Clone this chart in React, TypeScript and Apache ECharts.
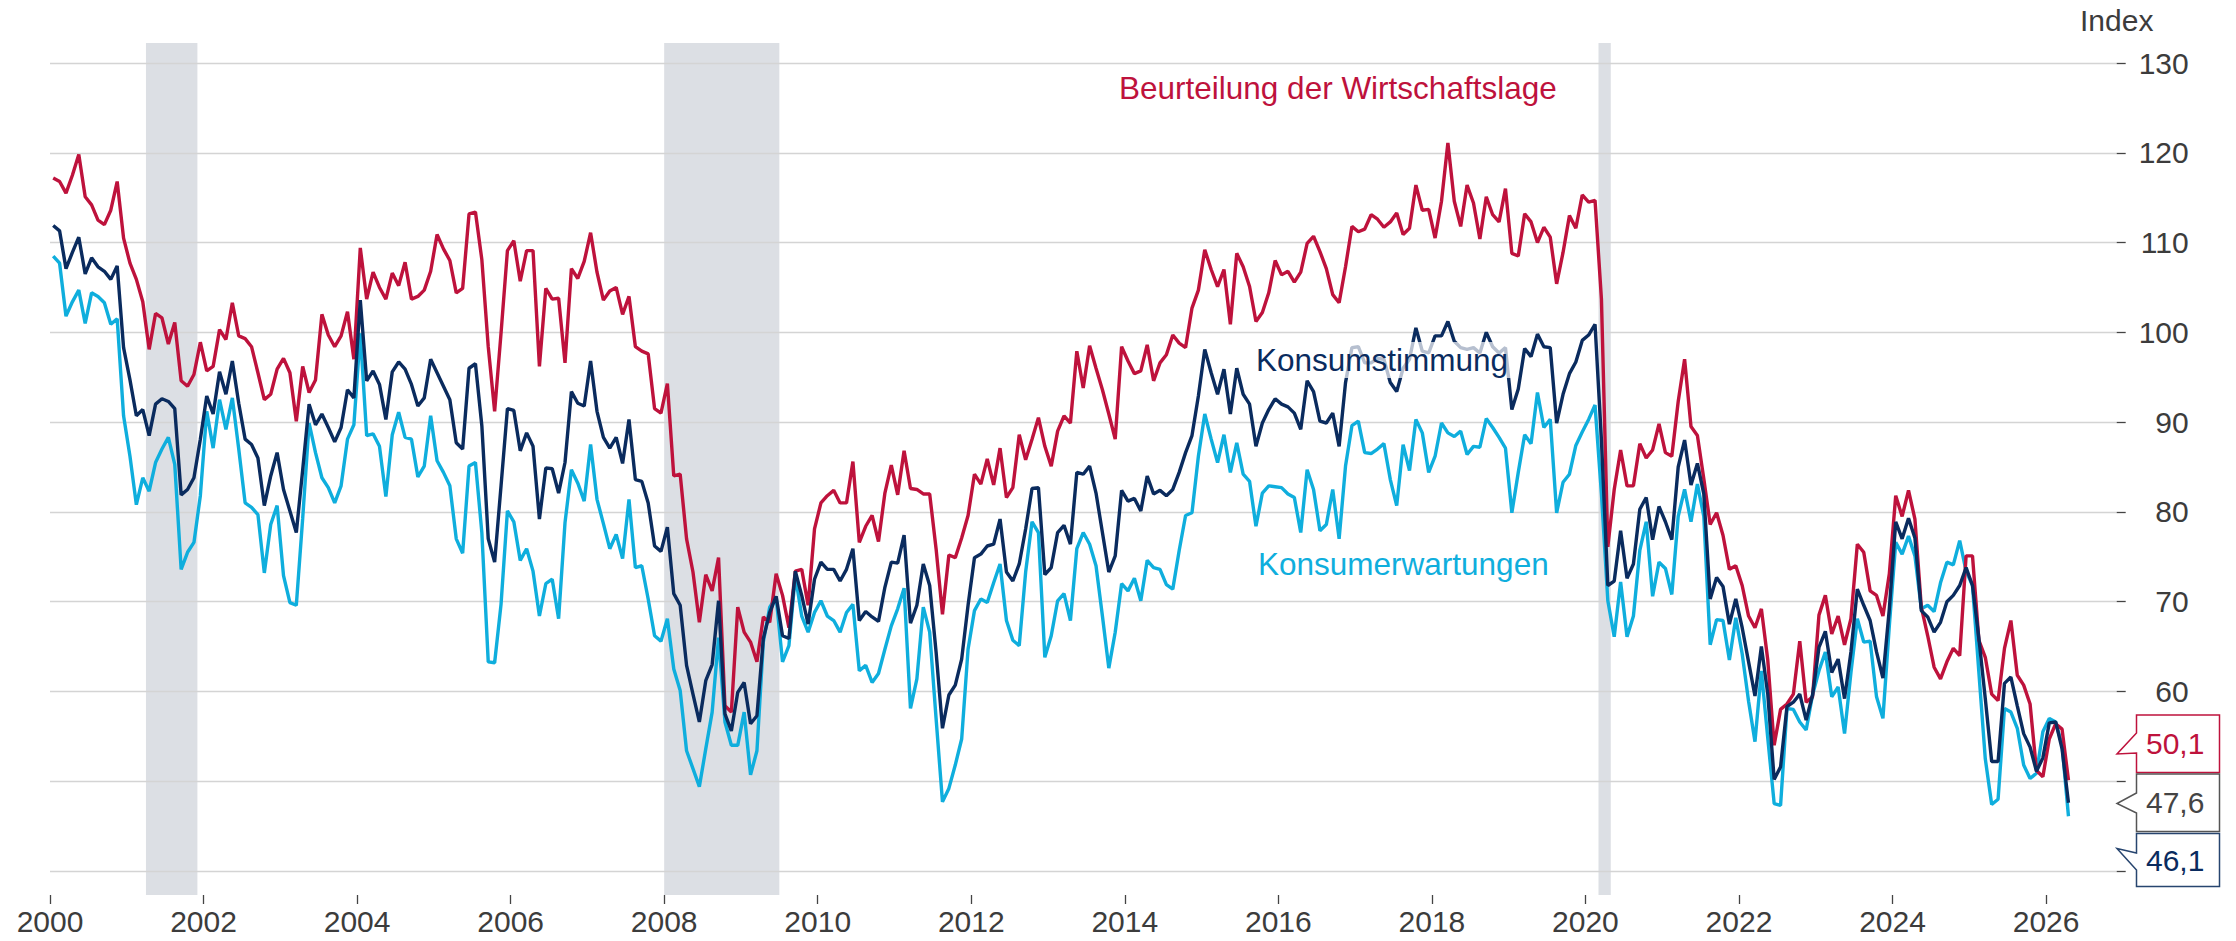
import React, { useEffect, useRef } from 'react';
import * as echarts from 'echarts';

// Monthly values, first month = January 2000, last month = April 2026
const FIRST_YEAR = 2000;

const beurteilung = [
  117.2, 116.8, 115.5, 117.5, 119.8, 115.1, 114.2, 112.5, 112.0, 113.6, 116.8, 110.5,
  107.7, 105.9, 103.4, 98.1, 102.1, 101.6, 98.7, 101.1, 94.6, 94.0, 95.3, 98.9,
  95.7, 96.2, 100.3, 99.2, 103.3, 99.6, 99.3, 98.4, 95.5, 92.5, 93.1, 95.9,
  97.1, 95.5, 90.1, 96.2, 93.3, 94.7, 102.0, 99.7, 98.4, 99.6, 102.3, 97.0,
  109.4, 103.7, 106.7, 105.0, 103.7, 106.6, 105.2, 107.8, 103.7, 104.0, 104.7, 106.8,
  110.9, 109.3, 108.0, 104.4, 104.9, 113.2, 113.4, 108.1, 98.4, 91.2, 99.9, 109.1,
  110.2, 105.7, 109.1, 109.1, 96.2, 104.9, 103.7, 103.8, 96.6, 107.1, 106.0, 107.9,
  111.1, 106.7, 103.6, 104.6, 105.0, 102.0, 104.0, 98.4, 97.9, 97.6, 91.5, 91.0,
  94.3, 84.0, 84.2, 77.0, 73.3, 67.7, 73.0, 71.2, 74.9, 58.4, 57.7, 69.4,
  66.6, 65.5, 63.3, 68.3, 67.7, 73.1, 70.7, 67.1, 73.4, 73.6, 69.6, 78.1,
  81.0, 81.8, 82.4, 81.0, 81.0, 85.6, 76.6, 78.4, 79.6, 76.7, 82.1, 85.2,
  81.9, 86.8, 82.6, 82.5, 82.0, 82.0, 75.9, 68.6, 75.2, 74.9, 77.1, 79.6,
  84.2, 83.1, 85.9, 83.0, 87.1, 81.6, 82.7, 88.6, 85.8, 88.1, 90.5, 87.3,
  85.1, 89.0, 90.7, 89.9, 97.9, 93.8, 98.5, 96.0, 93.6, 90.9, 88.1, 98.4,
  96.8, 95.4, 95.7, 98.6, 94.6, 96.6, 97.5, 99.7, 98.8, 98.3, 102.7, 104.7,
  109.2, 107.0, 105.1, 107.0, 100.9, 108.8, 107.3, 105.1, 101.2, 102.2, 104.4, 108.0,
  106.4, 106.8, 105.6, 106.7, 109.9, 110.7, 109.0, 107.1, 104.2, 103.3, 107.3, 111.8,
  111.2, 111.5, 113.1, 112.6, 111.7, 112.3, 113.3, 110.9, 111.6, 116.4, 113.6, 113.7,
  110.5, 114.6, 121.1, 114.6, 111.8, 116.4, 114.4, 110.4, 115.1, 113.1, 112.3, 116.0,
  108.8, 108.5, 113.2, 112.3, 110.0, 111.7, 110.6, 105.4, 108.9, 113.0, 111.6, 115.3,
  114.5, 114.7, 103.7, 76.1, 82.5, 86.9, 82.9, 82.9, 87.6, 86.0, 86.9, 89.8,
  86.6, 86.2, 92.3, 97.0, 89.5, 88.5, 83.7, 78.6, 79.9, 77.4, 73.6, 74.0,
  71.8, 68.4, 67.1, 69.2, 63.5, 54.0, 58.0, 58.6, 59.7, 65.6, 58.8, 59.4,
  68.5, 70.7, 66.4, 68.4, 65.2, 68.1, 76.4, 75.5, 71.2, 70.7, 68.4, 73.1,
  81.8, 79.5, 82.4, 79.2, 69.4, 66.2, 62.7, 61.4, 63.3, 64.8, 64.0, 75.1,
  75.1, 65.7, 63.8, 59.7, 59.0, 64.8, 67.9, 61.8, 60.7, 58.6, 51.2, 50.5,
  54.7, 56.4, 55.8, 50.1,
];

const konsumstimmung = [
  111.9, 111.3, 107.1, 108.9, 110.6, 106.5, 108.3, 107.3, 106.8, 105.9, 107.4, 98.3,
  94.7, 90.7, 91.4, 88.5, 92.0, 92.6, 92.3, 91.5, 81.9, 82.5, 83.8, 88.1,
  92.9, 90.9, 95.6, 93.1, 96.8, 92.1, 88.1, 87.5, 86.0, 80.7, 84.0, 86.6,
  82.5, 80.1, 77.7, 84.7, 92.0, 89.7, 90.9, 89.4, 87.8, 89.4, 93.6, 92.7,
  103.6, 94.6, 95.7, 94.2, 90.3, 95.6, 96.7, 95.9, 94.2, 91.8, 92.7, 97.0,
  95.5, 94.0, 92.5, 87.7, 87.0, 96.0, 96.5, 89.6, 77.0, 74.4, 82.9, 91.5,
  91.3, 86.8, 88.8, 87.3, 79.2, 84.9, 84.8, 82.1, 85.5, 93.4, 92.1, 91.8,
  96.8, 91.2, 88.3, 87.1, 88.3, 85.4, 90.3, 83.6, 83.4, 81.0, 76.2, 75.6,
  78.3, 70.9, 69.6, 62.9, 59.7, 56.6, 61.2, 63.0, 70.1, 57.5, 55.6, 59.9,
  61.0, 56.4, 57.3, 65.9, 68.8, 70.6, 66.2, 65.9, 73.4, 70.7, 67.5, 72.5,
  74.4, 73.6, 73.6, 72.3, 73.6, 75.9, 67.9, 68.9, 68.3, 67.8, 71.6, 74.4,
  74.3, 77.4, 67.6, 69.6, 74.2, 71.8, 64.4, 55.9, 59.6, 60.7, 63.6, 69.6,
  74.9, 75.3, 76.2, 76.4, 79.2, 73.3, 72.3, 74.2, 78.1, 82.6, 82.7, 73.0,
  73.8, 77.7, 78.5, 76.4, 84.4, 84.2, 85.1, 82.1, 77.7, 73.3, 75.1, 82.4,
  81.2, 81.5, 80.1, 84.0, 82.0, 82.4, 81.8, 82.5, 84.4, 86.6, 88.5, 92.9,
  98.1, 95.5, 93.1, 95.9, 90.9, 96.0, 93.1, 92.0, 87.3, 89.9, 91.4, 92.6,
  92.0, 91.7, 91.0, 89.2, 94.6, 93.4, 90.1, 89.9, 91.0, 87.3, 94.4, 98.3,
  98.4, 96.6, 96.6, 97.1, 97.0, 94.4, 93.4, 96.0, 97.0, 100.5, 97.9, 97.7,
  99.6, 99.6, 101.2, 99.0, 98.3, 98.1, 98.3, 97.7, 100.0, 98.4, 97.7, 98.3,
  91.4, 93.7, 98.2, 97.3, 99.8, 98.4, 98.3, 89.9, 93.1, 95.4, 96.7, 99.1,
  99.7, 100.9, 88.0, 71.8, 72.3, 77.9, 72.6, 74.2, 80.3, 81.6, 76.9, 80.6,
  78.9, 76.9, 85.0, 88.0, 83.0, 85.4, 82.0, 70.3, 72.7, 71.7, 67.5, 70.3,
  67.1, 63.3, 59.5, 65.0, 59.7, 50.2, 51.6, 58.3, 58.8, 59.7, 56.8, 59.6,
  64.9, 66.7, 62.1, 63.6, 59.2, 64.4, 71.4, 69.6, 67.9, 64.4, 61.5, 69.2,
  78.9, 77.0, 79.3, 77.1, 69.0, 68.3, 66.6, 67.7, 70.0, 70.7, 71.8, 73.8,
  71.8, 65.9, 59.2, 52.2, 52.2, 60.9, 61.6, 58.4, 55.3, 53.8, 51.1, 52.6,
  56.5, 56.6, 53.6, 47.6,
];

const konsumerwartungen = [
  108.5, 107.7, 101.8, 103.4, 104.7, 101.0, 104.4, 104.0, 103.3, 100.9, 101.5, 90.7,
  86.2, 80.8, 83.8, 82.3, 85.5, 87.0, 88.3, 85.3, 73.6, 75.5, 76.6, 81.8,
  91.2, 87.1, 92.5, 89.2, 92.7, 87.0, 81.0, 80.5, 79.7, 73.2, 78.6, 80.7,
  72.9, 69.9, 69.6, 79.3, 89.9, 86.6, 83.8, 82.7, 81.0, 82.9, 88.1, 89.7,
  99.9, 88.5, 88.7, 87.3, 81.7, 88.6, 91.1, 88.3, 88.1, 83.9, 85.1, 90.7,
  85.7, 84.4, 82.9, 77.0, 75.4, 85.1, 85.5, 77.7, 63.3, 63.2, 69.7, 80.1,
  78.9, 74.6, 75.9, 73.4, 68.4, 72.0, 72.5, 68.1, 78.8, 84.7, 83.2, 81.2,
  87.5, 81.4, 78.7, 75.9, 77.5, 74.8, 81.4, 73.8, 74.0, 70.3, 66.2, 65.6,
  68.1, 62.5, 60.1, 53.4, 51.4, 49.4, 53.6, 57.7, 66.0, 56.6, 54.0, 54.0,
  57.7, 50.7, 53.4, 65.5, 69.4, 70.5, 63.3, 65.1, 72.9, 68.4, 66.6, 68.8,
  70.1, 68.4, 67.9, 66.6, 68.8, 69.7, 62.3, 62.9, 61.0, 62.0, 64.7, 67.3,
  69.2, 71.5, 58.1, 61.4, 69.4, 66.6, 57.0, 47.7, 49.2, 51.8, 54.7, 64.7,
  69.0, 70.3, 69.9, 72.1, 74.2, 67.9, 65.7, 65.1, 73.3, 78.9, 77.7, 63.8,
  66.2, 70.1, 70.9, 67.9, 75.9, 77.7, 76.4, 74.0, 68.4, 62.6, 66.6, 72.0,
  71.2, 72.6, 70.1, 74.6, 73.8, 73.6, 71.9, 71.4, 75.7, 79.6, 79.9, 86.2,
  90.9, 88.1, 85.5, 88.6, 84.4, 87.7, 84.2, 83.4, 78.4, 82.1, 82.9, 82.8,
  82.7, 82.0, 81.6, 77.7, 84.7, 82.5, 77.9, 78.6, 82.5, 77.0, 85.1, 89.6,
  90.1, 86.6, 86.5, 87.0, 87.6, 83.6, 80.7, 87.5, 84.6, 90.3, 88.8, 84.4,
  86.2, 89.9, 88.8, 88.4, 89.0, 86.4, 87.3, 87.2, 90.4, 89.4, 88.3, 87.1,
  79.9, 84.4, 88.6, 87.6, 93.3, 89.4, 90.3, 79.9, 83.3, 84.2, 87.4, 88.9,
  90.3, 91.9, 82.0, 70.1, 66.1, 72.2, 66.1, 68.4, 75.7, 78.9, 70.6, 74.4,
  73.7, 70.8, 79.5, 82.5, 78.9, 83.1, 79.5, 65.2, 68.0, 67.9, 63.5, 68.2,
  64.2, 58.9, 54.4, 62.3, 54.8, 47.5, 47.3, 58.1, 58.0, 56.6, 55.7, 59.6,
  62.3, 64.4, 59.4, 60.5, 55.3, 62.1, 68.1, 65.5, 65.6, 59.4, 57.0, 67.3,
  76.6, 75.3, 77.3, 75.1, 69.2, 69.6, 68.9, 72.1, 74.4, 74.1, 76.8, 73.4,
  71.8, 62.1, 52.5, 47.4, 48.0, 58.1, 57.7, 55.9, 51.8, 50.3, 50.9, 55.5,
  57.0, 56.6, 54.0, 46.1,
];

// Recession periods (shaded), as [start, end] in decimal years
const recessionPeriods = [
  [2001.25, 2001.92],
  [2008.0, 2009.5],
  [2020.17, 2020.33],
];

const xTickYears = [2000, 2002, 2004, 2006, 2008, 2010, 2012, 2014, 2016, 2018, 2020, 2022, 2024, 2026];

const seriesNames = ['Beurteilung der Wirtschaftslage', 'Konsumstimmung', 'Konsumerwartungen'];

const RED = '#BE123C';
const NAVY = '#0A2B5E';
const CYAN = '#0FAEDD';
const TEXT_GRAY = '#3c3c3c';
const FONT = '"Liberation Sans", Arial, sans-serif';

const toPoints = (vals: number[]) => vals.map((v, i) => [FIRST_YEAR + (i + 0.5) / 12, v]);
const fmt = (v: number) => v.toFixed(1).replace('.', ',');

function callout(top: number, bottom: number, attachA: number, tip: [number, number], attachB: number, color: string, textColor: string, label: string) {
  const x0 = 2136.5;
  const x1 = 2219.5;
  return [
    {
      type: 'polygon',
      z: 100,
      shape: {
        points: [
          [x0, top], [x1, top], [x1, bottom], [x0, bottom], [x0, attachB], tip, [x0, attachA],
        ],
      },
      style: { fill: '#ffffff', stroke: color, lineWidth: 1.5 },
    },
    {
      type: 'text',
      z: 101,
      x: 2146,
      y: (top + bottom) / 2,
      style: { text: label, fill: textColor, fontSize: 30, fontFamily: FONT, align: 'left', verticalAlign: 'middle' },
    },
  ];
}

export default function App() {
  const ref = useRef<HTMLDivElement>(null);

  useEffect(() => {
    if (!ref.current) return;
    const chart = echarts.init(ref.current, null, { renderer: 'svg' });

    const lastRed = beurteilung[beurteilung.length - 1];
    const lastNavy = konsumstimmung[konsumstimmung.length - 1];
    const lastCyan = konsumerwartungen[konsumerwartungen.length - 1];

    chart.setOption({
      animation: false,
      backgroundColor: '#ffffff',
      textStyle: { fontFamily: FONT },
      grid: { left: 50, right: 119.3, top: 63, bottom: 70, containLabel: false, outerBoundsMode: 'none' },
      xAxis: {
        type: 'value',
        min: 2000,
        max: 2026.92,
        interval: 2,
        offset: 24,
        z: 2,
        axisLine: { show: false },
        splitLine: { show: false },
        axisTick: { show: true, length: 9, lineStyle: { color: '#444', width: 1.3 }, customValues: xTickYears },
        axisLabel: {
          customValues: xTickYears,
          fontSize: 30,
          lineHeight: 30,
          color: TEXT_GRAY,
          margin: 11,
          fontFamily: FONT,
          formatter: (v: number) => String(v),
        },
      },
      yAxis: {
        type: 'value',
        position: 'right',
        min: 40,
        max: 130,
        interval: 10,
        z: 2,
        name: 'Index',
        nameLocation: 'end',
        nameGap: 28,
        nameTextStyle: { fontSize: 30, color: TEXT_GRAY, fontFamily: FONT },
        axisLine: { show: false },
        axisTick: { show: true, length: 9, lineStyle: { color: '#444', width: 1.3 } },
        splitLine: { show: true, lineStyle: { color: '#d4d4d4', width: 1.3 } },
        axisLabel: {
          fontSize: 30,
          color: TEXT_GRAY,
          align: 'right',
          margin: 72,
          fontFamily: FONT,
          formatter: (v: number) => (v >= 60 ? String(v) : ''),
        },
      },
      series: [
        {
          type: 'custom',
          name: 'Rezession',
          z: 1,
          silent: true,
          clip: false,
          data: recessionPeriods,
          encode: { x: [0, 1] },
          renderItem: (params: any, api: any) => {
            const cs = params.coordSys;
            const p0 = api.coord([api.value(0), 130]);
            const p1 = api.coord([api.value(1), 130]);
            return {
              type: 'rect',
              shape: { x: p0[0], y: cs.y - 20, width: p1[0] - p0[0], height: cs.height + 44 },
              style: { fill: '#dcdfe4' },
            };
          },
        },
        {
          type: 'line',
          name: seriesNames[2],
          z: 3,
          showSymbol: false,
          symbol: 'none',
          data: toPoints(konsumerwartungen),
          lineStyle: { color: CYAN, width: 3.4 },
          itemStyle: { color: CYAN },
        },
        {
          type: 'line',
          name: seriesNames[0],
          z: 4,
          showSymbol: false,
          symbol: 'none',
          data: toPoints(beurteilung),
          lineStyle: { color: RED, width: 3.4 },
          itemStyle: { color: RED },
        },
        {
          type: 'line',
          name: seriesNames[1],
          z: 5,
          showSymbol: false,
          symbol: 'none',
          data: toPoints(konsumstimmung),
          lineStyle: { color: NAVY, width: 3.4 },
          itemStyle: { color: NAVY },
        },
      ],
      graphic: [
        {
          type: 'text',
          z: 100,
          x: 1119,
          y: 88,
          style: { text: seriesNames[0], fill: RED, fontSize: 31.5, fontFamily: FONT, align: 'left', verticalAlign: 'middle' },
        },
        {
          type: 'text',
          z: 100,
          x: 1252,
          y: 360,
          style: {
            text: seriesNames[1],
            fill: NAVY,
            fontSize: 31.5,
            fontFamily: FONT,
            align: 'left',
            verticalAlign: 'middle',
            backgroundColor: 'rgba(255,255,255,0.7)',
            padding: [2, 4, 2, 4],
          },
        },
        {
          type: 'text',
          z: 100,
          x: 1258,
          y: 564,
          style: { text: seriesNames[2], fill: CYAN, fontSize: 31.5, fontFamily: FONT, align: 'left', verticalAlign: 'middle' },
        },
        ...callout(715, 772.5, 733, [2117, 754], 753, RED, RED, fmt(lastRed)),
        ...callout(774, 831.5, 793, [2117, 803.5], 813, '#555555', '#444444', fmt(lastNavy)),
        ...callout(833.5, 886.5, 853, [2117, 848.5], 870, '#27456f', NAVY, fmt(lastCyan)),
      ],
    });

    return () => chart.dispose();
  }, []);

  return <div ref={ref} style={{ position: 'fixed', left: 0, top: 0, width: 2236, height: 941 }} />;
}
